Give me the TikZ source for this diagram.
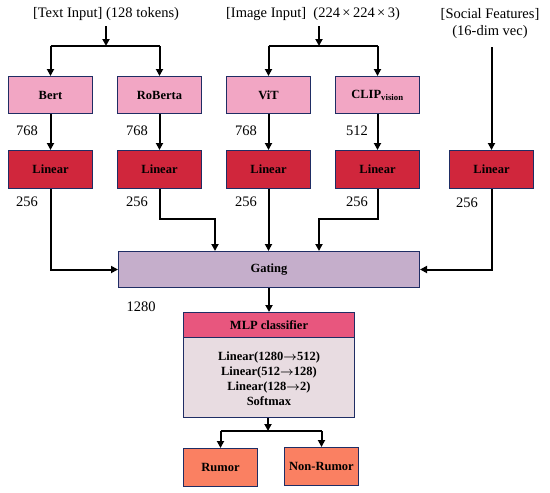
\documentclass[tikz,border=0pt]{standalone}
\usepackage{fontspec}
\setmainfont{Liberation Serif}
\usetikzlibrary{arrows.meta,positioning}
\definecolor{pinkbox}{RGB}{242,166,196}
\definecolor{redbox}{RGB}{208,38,60}
\definecolor{gatebox}{RGB}{197,174,203}
\definecolor{mlphead}{RGB}{232,86,126}
\definecolor{mlpbody}{RGB}{232,220,225}
\definecolor{outbox}{RGB}{250,128,98}
\definecolor{edge}{RGB}{31,45,100}
\tikzset{
  box/.style={draw=edge, line width=1pt, anchor=north west, inner sep=0pt},
  btxt/.style={font=\fontsize{12.5}{14}\selectfont\bfseries, inner sep=0pt},
  lbl/.style={font=\fontsize{14.5}{17}\selectfont, inner sep=0pt},
  conn/.style={line width=2pt, -{Triangle[length=7pt,width=7pt]}},
  plain/.style={line width=2pt},
}
\begin{document}
\begin{tikzpicture}[x=1pt,y=-1pt]
\useasboundingbox (0,0) rectangle (550,493);
% inputs
\node[lbl] (txt) at (106,14) {[Text Input] (128 tokens)};
\node[lbl] (img) at (313,14) {[Image Input]\ \ (224\,×\,224\,×\,3)};
\node[lbl, align=center] (soc) at (490,24) {[Social Features]\\(16-dim vec)};
% encoder boxes
\node[box, fill=pinkbox, minimum width=84pt, minimum height=37pt] (bert) at (8,76) {};
\node[btxt] at (bert.center) {Bert};
\node[box, fill=pinkbox, minimum width=84pt, minimum height=37pt] (rob) at (117,76) {};
\node[btxt] at (rob.center) {RoBerta};
\node[box, fill=pinkbox, minimum width=84pt, minimum height=37pt] (vit) at (226,76) {};
\node[btxt] at (vit.center) {ViT};
\node[box, fill=pinkbox, minimum width=84pt, minimum height=37pt] (clip) at (335,76) {};
\node[btxt] at (clip.center) {CLIP\textsubscript{vision}};
% linear boxes
\foreach \n/\x in {l1/8,l2/117,l3/226,l4/335,l5/449}{
  \node[box, fill=redbox, minimum width=84pt, minimum height=38pt] (\n) at (\x,150) {};
  \node[btxt] at (\n.center) {Linear};
}
% gating
\node[box, fill=gatebox, minimum width=301pt, minimum height=36pt] (gate) at (118,251) {};
\node[btxt] at (gate.center) {Gating};
% MLP
\node[box, fill=mlphead, minimum width=171pt, minimum height=25pt] (mlph) at (183,312) {};
\node[btxt] at (mlph.center) {MLP classifier};
\node[box, fill=mlpbody, minimum width=171pt, minimum height=80pt] (mlpb) at (183,337) {};
\node[font=\fontsize{12.5}{15}\selectfont\bfseries, align=center, inner sep=0pt] (mlpt) at ([yshift=-1pt]mlpb.center) {Linear(1280{\boldmath$\rightarrow$}512)\\Linear(512{\boldmath$\rightarrow$}128)\\Linear(128{\boldmath$\rightarrow$}2)\\Softmax};
% outputs
\node[box, fill=outbox, minimum width=74pt, minimum height=38pt] (rum) at (183,448) {};
\node[btxt] at (rum.center) {Rumor};
\node[box, fill=outbox, minimum width=74pt, minimum height=38pt] (non) at (284,447) {};
\node[btxt] at (non.center) {Non-Rumor};
% coordinates
\coordinate (tj) at (106,46);
\coordinate (ij) at (319,46);
\coordinate (oj) at (268,431);
% text input arrows
\draw[conn] (106,26) -- (tj);
\draw[plain] (bert.north |- tj) -- (rob.north |- tj);
\draw[conn] (bert.north |- tj) -- (bert.north);
\draw[conn] (rob.north |- tj) -- (rob.north);
% image input arrows
\draw[conn] (319,26) -- (ij);
\draw[plain] (vit.north |- ij) -- (clip.north |- ij);
\draw[conn] (vit.north |- ij) -- (vit.north);
\draw[conn] (clip.north |- ij) -- (clip.north);
% social
\draw[conn] (l5.north |- 0,47) -- (l5.north);
% encoders to linear
\draw[conn] (bert) -- (l1);
\draw[conn] (rob) -- (l2);
\draw[conn] (vit) -- (l3);
\draw[conn] (clip) -- (l4);
% linear to gating
\draw[conn] (l1.south) |- (gate.west);
\draw[conn] (l2.south) -- (l2.south |- 0,219) -- (215,219) -- (215,251);
\draw[conn] (l3.south) -- (l3.south |- gate.north);
\draw[conn] (l4.south) -- (l4.south |- 0,219) -- (319,219) -- (319,251);
\draw[conn] (l5.south) |- (gate.east);
% gating to mlp
\draw[conn] (gate.south) -- (gate.south |- mlph.north);
% mlp to outputs
\draw[conn] (mlpb.south -| oj) -- (oj);
\draw[plain] (rum.north |- oj) -- (non.north |- oj);
\draw[conn] (rum.north |- oj) -- (rum.north);
\draw[conn] (non.north |- oj) -- (non.north);
% dimension labels
\node[lbl] (d1) at (27,131) {768};
\node[lbl] (d2) at (137,131) {768};
\node[lbl] (d3) at (246,131) {768};
\node[lbl] (d4) at (357,131) {512};
\node[lbl] (e1) at (27,202) {256};
\node[lbl] (e2) at (137,202) {256};
\node[lbl] (e3) at (246,202) {256};
\node[lbl] (e4) at (357,202) {256};
\node[lbl] (e5) at (467,203) {256};
\node[lbl] (g1) at (141,307) {1280};
\end{tikzpicture}
\end{document}
